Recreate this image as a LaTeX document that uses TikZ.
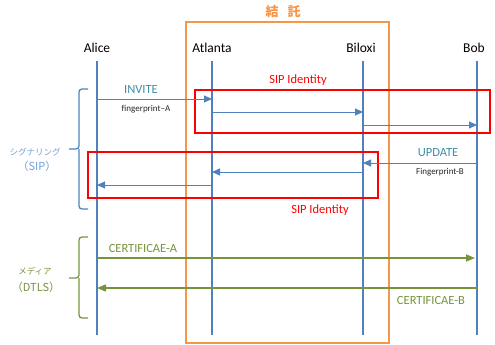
\documentclass[tikz,border=0pt]{standalone}
\usepackage{fontspec}
\setmainfont{Carlito}
\newfontfamily\jpfont{Noto Sans CJK JP}
\usetikzlibrary{arrows.meta}
\definecolor{lifeblue}{HTML}{4F81BD}
\definecolor{boxorange}{HTML}{F79646}
\definecolor{msgtext}{HTML}{3E8EA8}
\definecolor{sigblue}{HTML}{6FA0D8}
\definecolor{dtlsgreen}{HTML}{77933C}
\begin{document}
\begin{tikzpicture}[x=1pt,y=-1pt,
  lifeline/.style={draw=lifeblue,line width=1.2pt},
  actor/.style={font=\fontsize{13.5}{14}\selectfont,text=black,inner sep=0pt},
  sigmsg/.style={draw=lifeblue,line width=1pt,-{Triangle[length=8pt,width=7pt]}},
  medmsg/.style={draw=dtlsgreen,line width=1.5pt,-{Triangle[length=9pt,width=7pt]}},
  redbox/.style={draw=red,line width=1.3pt},
  idlabel/.style={text=red,font=\fontsize{12.5}{13}\selectfont,inner sep=0pt},
  msglabel/.style={text=msgtext,font=\fontsize{12.5}{13}\selectfont,inner sep=0pt},
  fplabel/.style={text=black!85,font=\fontsize{9}{10}\selectfont,inner sep=0pt},
  certlabel/.style={text=dtlsgreen,font=\fontsize{12.5}{13}\selectfont,inner sep=0pt},
  bracesig/.style={draw=lifeblue,line width=1.3pt,rounded corners=3pt},
  bracemed/.style={draw=dtlsgreen,line width=1.3pt,rounded corners=3pt}]
\useasboundingbox (0,0) rectangle (495,345);
% collusion box
\node[draw=boxorange,line width=1.2pt,minimum width=203pt,minimum height=321pt,inner sep=0pt] (col) at (287.5,182.5) {};
\node[text=boxorange,font=\jpfont\bfseries\fontsize{13}{14}\selectfont,inner sep=0pt] (coltitle) at (283,12) {結\hspace{9pt}託};
% actors
\node[actor] (alice) at (97,48) {Alice};
\node[actor] (atlanta) at (212,48) {Atlanta};
\node[actor] (biloxi) at (361,48) {Biloxi};
\node[actor] (bob) at (474,48) {Bob};
\coordinate (at) at (97,61);   \coordinate (ab) at (97,335);
\coordinate (tt) at (212,61);  \coordinate (tb) at (212,335);
\coordinate (bt) at (363,61);  \coordinate (bb) at (363,335);
\coordinate (ot) at (477,61);  \coordinate (ob) at (477,335);
\draw[lifeline] (at) -- (ab);
\draw[lifeline] (tt) -- (tb);
\draw[lifeline] (bt) -- (bb);
\draw[lifeline] (ot) -- (ob);
% red boxes
\node[redbox,minimum width=295pt,minimum height=43pt,inner sep=0pt] (rb1) at (342.5,111.5) {};
\node[redbox,minimum width=290pt,minimum height=46pt,inner sep=0pt] (rb2) at (233,175) {};
\node[idlabel] (id1) at (298,80) {SIP Identity};
\node[idlabel] (id2) at (320,210) {SIP Identity};
% signalling messages
\coordinate (m1a) at (97,99);  \coordinate (m1b) at (212,99);
\coordinate (m2a) at (212,112); \coordinate (m2b) at (363,112);
\coordinate (m3a) at (363,125); \coordinate (m3b) at (477,125);
\coordinate (m4a) at (477,163); \coordinate (m4b) at (363,163);
\coordinate (m5a) at (363,172); \coordinate (m5b) at (212,172);
\coordinate (m6a) at (212,185); \coordinate (m6b) at (97,185);
\draw[sigmsg] (m1a) -- (m1b);
\draw[sigmsg] (m2a) -- (m2b);
\draw[sigmsg] (m3a) -- (m3b);
\draw[sigmsg] (m4a) -- (m4b);
\draw[sigmsg] (m5a) -- (m5b);
\draw[sigmsg] (m6a) -- (m6b);
\node[msglabel] (invite) at (141,89) {INVITE};
\node[fplabel] (fpa) at (146,109) {fingerprint--A};
\node[msglabel] (update) at (438,153) {UPDATE};
\node[fplabel] (fpb) at (440,172) {Fingerprint-B};
% media messages
\coordinate (c1a) at (97,258);  \coordinate (c1b) at (475,258);
\coordinate (c2a) at (477,288); \coordinate (c2b) at (97,288);
\draw[medmsg] (c1a) -- (c1b);
\draw[medmsg] (c2a) -- (c2b);
\node[certlabel] (certa) at (143,248) {CERTIFICAE-A};
\node[certlabel] (certb) at (431,300) {CERTIFICAE-B};
% braces
\coordinate (s1) at (88,89); \coordinate (s2) at (69,149); \coordinate (s3) at (88,209);
\draw[bracesig] (s1) -| (79,149) -- (s2);
\draw[bracesig] (79,149) |- (s3);
\node[text=sigblue,font=\jpfont\fontsize{8.5}{9}\selectfont,inner sep=0pt] (sigl) at (35,152) {シグナリング};
\node[text=sigblue,font=\jpfont\fontsize{11}{12}\selectfont,inner sep=0pt] (sigl2) at (37,166) {（SIP）};
\coordinate (d1) at (88,237); \coordinate (d2) at (69,278); \coordinate (d3) at (88,318);
\draw[bracemed] (d1) -| (79,278) -- (d2);
\draw[bracemed] (79,278) |- (d3);
\node[text=dtlsgreen,font=\jpfont\fontsize{8.5}{9}\selectfont,inner sep=0pt] (medl) at (35,271) {メディア};
\node[text=dtlsgreen,font=\jpfont\fontsize{11}{12}\selectfont,inner sep=0pt] (medl2) at (36,287) {（DTLS）};
\end{tikzpicture}
\end{document}
